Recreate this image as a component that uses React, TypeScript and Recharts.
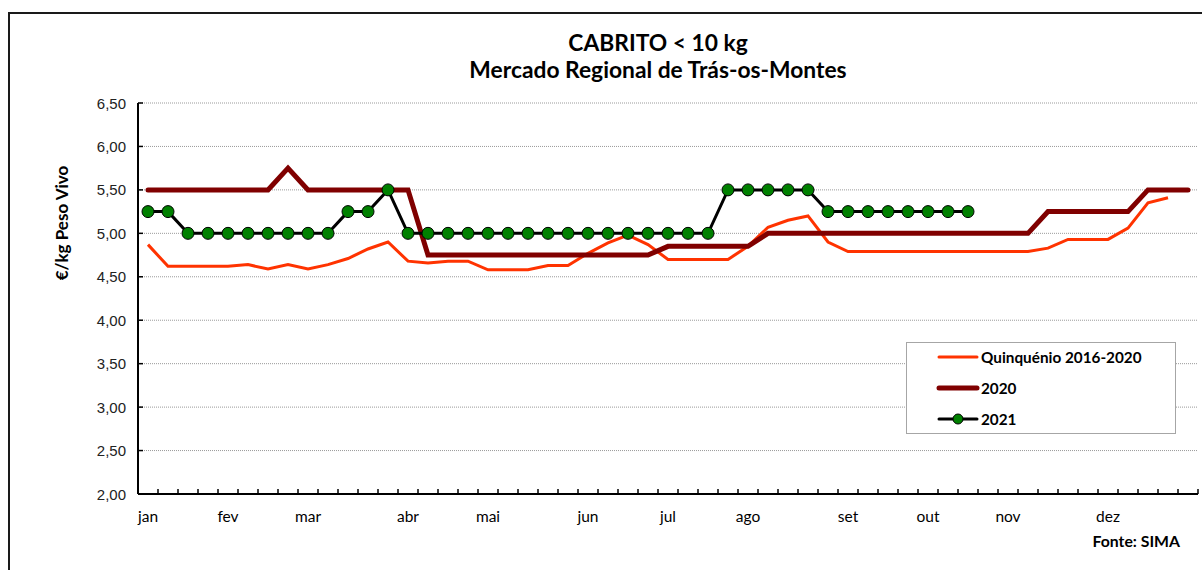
import { LineChart, Line, XAxis, YAxis, CartesianGrid, Legend } from "recharts";

// weekly categories (semana 1..53)
const weeks = [
  1, 2, 3, 4, 5, 6, 7, 8, 9, 10, 11, 12, 13, 14, 15, 16, 17, 18, 19, 20, 21, 22, 23, 24, 25, 26, 27,
  28, 29, 30, 31, 32, 33, 34, 35, 36, 37, 38, 39, 40, 41, 42, 43, 44, 45, 46, 47, 48, 49, 50, 51, 52, 53,
];

// first week of each month -> label
const monthWeeks = [1, 5, 9, 14, 18, 23, 27, 31, 36, 40, 44, 49];
const monthNames = ["jan", "fev", "mar", "abr", "mai", "jun", "jul", "ago", "set", "out", "nov", "dez"];

const yTicks = [2, 2.5, 3, 3.5, 4, 4.5, 5, 5.5, 6, 6.5];

const quinquenio = [
  4.87, 4.62, 4.62, 4.62, 4.62, 4.64, 4.59, 4.64, 4.59, 4.64, 4.71, 4.82, 4.9,
  4.68, 4.66, 4.68, 4.68, 4.58, 4.58, 4.58, 4.63, 4.63,
  4.77, 4.89, 4.98, 4.87,
  4.7, 4.7, 4.7, 4.7,
  4.85, 5.07, 5.15, 5.2, 4.9,
  4.79, 4.79, 4.79, 4.79, 4.79, 4.79, 4.79, 4.79, 4.79, 4.79,
  4.83, 4.93, 4.93, 4.93, 5.06, 5.35, 5.41,
];

const serie2020 = [
  5.5, 5.5, 5.5, 5.5, 5.5, 5.5, 5.5, 5.75, 5.5, 5.5, 5.5, 5.5, 5.5, 5.5,
  4.75, 4.75, 4.75, 4.75, 4.75, 4.75, 4.75, 4.75, 4.75, 4.75, 4.75, 4.75,
  4.85, 4.85, 4.85, 4.85, 4.85,
  5, 5, 5, 5, 5, 5, 5, 5, 5, 5, 5, 5, 5, 5,
  5.25, 5.25, 5.25, 5.25, 5.25,
  5.5, 5.5, 5.5,
];

const serie2021 = [
  5.25, 5.25, 5, 5, 5, 5, 5, 5, 5, 5, 5.25, 5.25, 5.5,
  5, 5, 5, 5, 5, 5, 5, 5, 5, 5, 5, 5, 5, 5, 5, 5,
  5.5, 5.5, 5.5, 5.5, 5.5,
  5.25, 5.25, 5.25, 5.25, 5.25, 5.25, 5.25, 5.25,
];

const data = weeks.map((w, i) => ({
  week: w,
  q: quinquenio[i] ?? null,
  y2020: serie2020[i] ?? null,
  y2021: serie2021[i] ?? null,
}));

const calibri = "Lato, 'Open Sans', sans-serif";

const XTick = (props: any) => {
  const { x, y, payload } = props;
  const idx = monthWeeks.indexOf(payload.value);
  return (
    <g>
      <line x1={x + 10} x2={x + 10} y1={y} y2={y - 5} stroke="#000" strokeWidth={1.5} />
      {idx >= 0 && (
        <text x={x} y={y + 27.5} textAnchor="middle" fontFamily={calibri} fontSize={15.5} fill="#000">
          {monthNames[idx]}
        </text>
      )}
    </g>
  );
};

const YTick = (props: any) => {
  const { x, y, payload } = props;
  return (
    <g>
      <line x1={x + 12} x2={x + 17} y1={y} y2={y} stroke="#000" strokeWidth={1.5} />
      <text x={x} y={y + 5.5} textAnchor="end" fontFamily="'Liberation Sans', Arial, sans-serif" fontSize={15} fill="#222">
        {payload.value.toFixed(2).replace(".", ",")}
      </text>
    </g>
  );
};

const legendRows = [
  { label: "Quinquénio 2016-2020", color: "#FF3300", width: 3, dot: false },
  { label: "2020", color: "#800000", width: 5, dot: false },
  { label: "2021", color: "#000000", width: 3, dot: true },
];

const LegendBox = () => (
  <svg width={270} height={92}>
    <rect x={0.5} y={0.5} width={269} height={91} fill="#fff" stroke="#A6A6A6" />
    {legendRows.map((r, i) => {
      const cy = 15 + i * 31;
      return (
        <g key={r.label}>
          <line x1={33} x2={71} y1={cy} y2={cy} stroke={r.color} strokeWidth={r.width} strokeLinecap="round" />
          {r.dot && <circle cx={52} cy={cy} r={5} fill="#008000" stroke="#000" strokeWidth={1} />}
          <text x={75} y={cy + 5.5} fontFamily={calibri} fontWeight={700} fontSize={15.3} fill="#000">
            {r.label}
          </text>
        </g>
      );
    })}
  </svg>
);

export default function App() {
  return (
    <div
      style={{
        position: "absolute",
        left: 0,
        top: 0,
        width: 1202,
        height: 570,
        overflow: "hidden",
        background: "#fff",
      }}
    >
      {/* chart frame, runs off the right and bottom edge */}
      <div
        style={{
          position: "absolute",
          left: 8,
          top: 12,
          width: 1300,
          height: 700,
          border: "2px solid #1a1a1a",
        }}
      />
      <div style={{ position: "absolute", left: 0, top: 0 }}>
        <LineChart width={1202} height={570} data={data} margin={{ top: 103, right: 4, bottom: 46, left: 78 }}>
          <CartesianGrid vertical={false} stroke="#9a9a9a" strokeDasharray="1 1" />
          <XAxis
            dataKey="week"
            height={30}
            interval={0}
            padding={{ left: 10, right: 10 }}
            tickSize={0}
            tickMargin={0}
            tick={<XTick />}
            axisLine={{ stroke: "#000", strokeWidth: 2 }}
            tickLine={false}
          />
          <YAxis
            width={60}
            domain={[2, 6.5]}
            ticks={yTicks}
            interval={0}
            tickSize={0}
            tickMargin={12}
            tick={<YTick />}
            axisLine={{ stroke: "#000", strokeWidth: 2 }}
            tickLine={false}
            label={{
              content: () => (
                <text
                  x={68}
                  y={223}
                  transform="rotate(-90 68 223)"
                  textAnchor="middle"
                  fontFamily={calibri}
                  fontWeight={700}
                  fontSize={17}
                  fill="#000"
                >
                  €/kg Peso Vivo
                </text>
              ),
            }}
          />
          <Legend
            layout="horizontal"
            verticalAlign="middle"
            align="center"
            content={() => <LegendBox />}
            wrapperStyle={{ left: 906, top: 342, width: 270, height: 92 }}
          />
          <Line
            dataKey="q"
            name="Quinquénio 2016-2020"
            stroke="#FF3300"
            strokeWidth={3}
            dot={false}
            isAnimationActive={false}
          />
          <Line
            dataKey="y2020"
            name="2020"
            stroke="#800000"
            strokeWidth={5}
            strokeLinecap="round"
            dot={false}
            isAnimationActive={false}
          />
          <Line
            dataKey="y2021"
            name="2021"
            stroke="#000"
            strokeWidth={3}
            dot={{ r: 6, fill: "#008000", stroke: "#000", strokeWidth: 1 }}
            connectNulls={false}
            isAnimationActive={false}
          />
        </LineChart>
      </div>
      <svg width={1202} height={100} style={{ position: "absolute", left: 0, top: 0 }}>
        <text x={658} y={51} textAnchor="middle" fontFamily={calibri} fontWeight={700} fontSize={22.8} fill="#000">
          CABRITO &lt; 10 kg
        </text>
        <text x={658} y={77.5} textAnchor="middle" fontFamily={calibri} fontWeight={700} fontSize={22.8} fill="#000">
          Mercado Regional de Trás-os-Montes
        </text>
      </svg>
      <div
        style={{
          position: "absolute",
          right: 1202 - 1180,
          top: 531,
          fontFamily: calibri,
          fontWeight: 700,
          fontSize: 15.8,
          lineHeight: "20px",
          color: "#000",
          whiteSpace: "nowrap",
        }}
      >
        Fonte: SIMA
      </div>
    </div>
  );
}
